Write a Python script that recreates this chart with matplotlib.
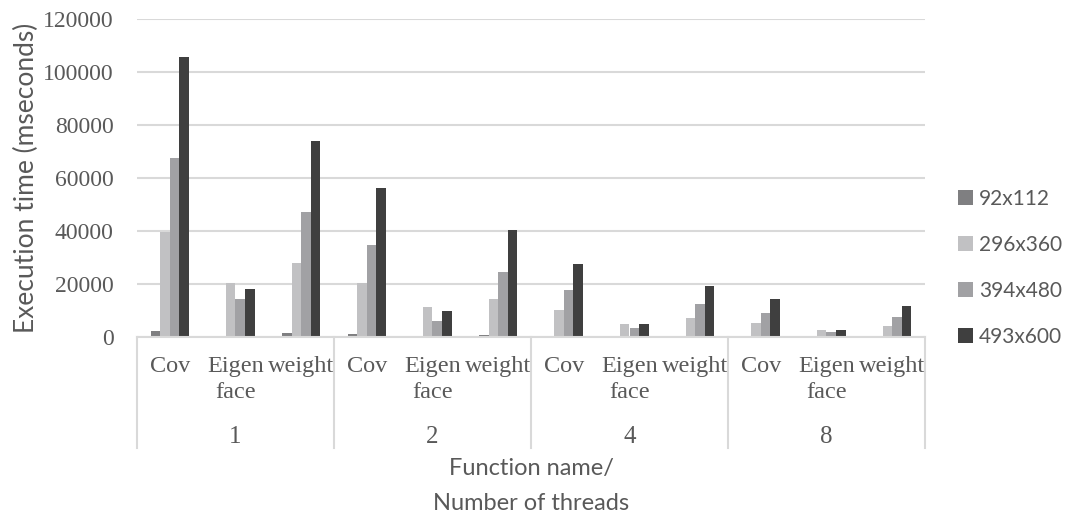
import numpy as np
import matplotlib.pyplot as plt
from matplotlib.patches import Patch

plt.rcParams["font.family"] = "DejaVu Sans"

threads = ["1", "2", "4", "8"]
functions = ["Cov", "Eigen\nface", "weight"]
series = ["92x112", "296x360", "394x480", "493x600"]

# execution time (ms), order: threads 1,2,4,8 x (Cov, Eigen face, weight)
t_92x112 = [2400, 300, 1600, 1000, 150, 750, 400, 100, 200, 150, 50, 150]
t_296x360 = [39500, 20300, 27800, 20500, 11400, 14300, 10300, 4900, 7000, 5300, 2500, 4000]
t_394x480 = [67600, 14300, 47100, 34700, 6000, 24600, 17600, 3300, 12300, 9200, 1750, 7400]
t_493x600 = [105700, 18100, 73900, 56300, 9900, 40200, 27600, 4900, 19350, 14300, 2750, 11550]

colors = ["#7f7f81", "#c1c1c3", "#a1a1a4", "#3f3f3f"]
text_gray = "#595959"
grid_gray = "#d9d9d9"
serif = "Liberation Serif"
sans = "Lato"

fig = plt.figure(figsize=(10.75, 5.17), dpi=100)
ax = fig.add_axes([137 / 1075, 1 - 337 / 517, (925 - 137) / 1075, (337 - 19) / 517])

x = np.arange(len(threads) * len(functions))
w = 0.145
for k, (vals, c, name) in enumerate(zip([t_92x112, t_296x360, t_394x480, t_493x600], colors, series)):
    ax.bar(x + (k - 1.5) * w, vals, width=w, color=c, label=name, zorder=3)

ax.set_xlim(-0.5, len(x) - 0.5)
ax.set_ylim(0, 120000)
ax.set_yticks(np.arange(0, 120001, 20000))
ax.yaxis.grid(True, color=grid_gray, linewidth=1.5, zorder=0)
ax.set_xticks([])
ax.tick_params(axis="y", length=0, pad=17, labelsize=17, labelcolor=text_gray)
for lbl in ax.get_yticklabels():
    lbl.set_fontfamily(serif)
for s in ["top", "right", "left"]:
    ax.spines[s].set_visible(False)
ax.spines["bottom"].set_color(grid_gray)
ax.spines["bottom"].set_linewidth(1.5)
ax.spines["bottom"].set_zorder(4)

ax.set_ylabel("Execution time (mseconds)", fontsize=19, color=text_gray,
              fontfamily=sans, labelpad=3)

# two-level category axis: function names, then thread counts with separators
px = 1 / 318
trans = ax.get_xaxis_transform()
for i in range(len(x)):
    ax.text(x[i], -19 * px, functions[i % 3], transform=trans, ha="center", va="top",
            fontsize=17.5, fontfamily=serif, color=text_gray, linespacing=1.3)
for g, t in enumerate(threads):
    ax.text(g * 3 + 1, -100 * px, t, transform=trans, ha="center", va="center",
            fontsize=18, fontfamily=serif, color=text_gray)
for g in range(len(threads) + 1):
    ax.plot([g * 3 - 0.5, g * 3 - 0.5], [0, -111 * px], transform=trans,
            color=grid_gray, linewidth=1.5, clip_on=False)

fig.text(531 / 1075, 1 - 468 / 517, "Function name/", ha="center", va="center",
         fontsize=17, fontfamily=sans, color=text_gray)
fig.text(531 / 1075, 1 - 503 / 517, "Number of threads", ha="center", va="center",
         fontsize=17, fontfamily=sans, color=text_gray)

handles = [Patch(facecolor=c, label=s) for c, s in zip(colors, series)]
leg = fig.legend(handles=handles, loc="center left", bbox_to_anchor=(958 / 1075, 1 - 268 / 517),
                 frameon=False, fontsize=15, handlelength=0.7, handleheight=0.7,
                 handletextpad=0.3, labelspacing=1.25, borderaxespad=0, borderpad=0)
for t in leg.get_texts():
    t.set_color(text_gray)
    t.set_fontfamily(sans)

fig.savefig("out.png", dpi=100)
